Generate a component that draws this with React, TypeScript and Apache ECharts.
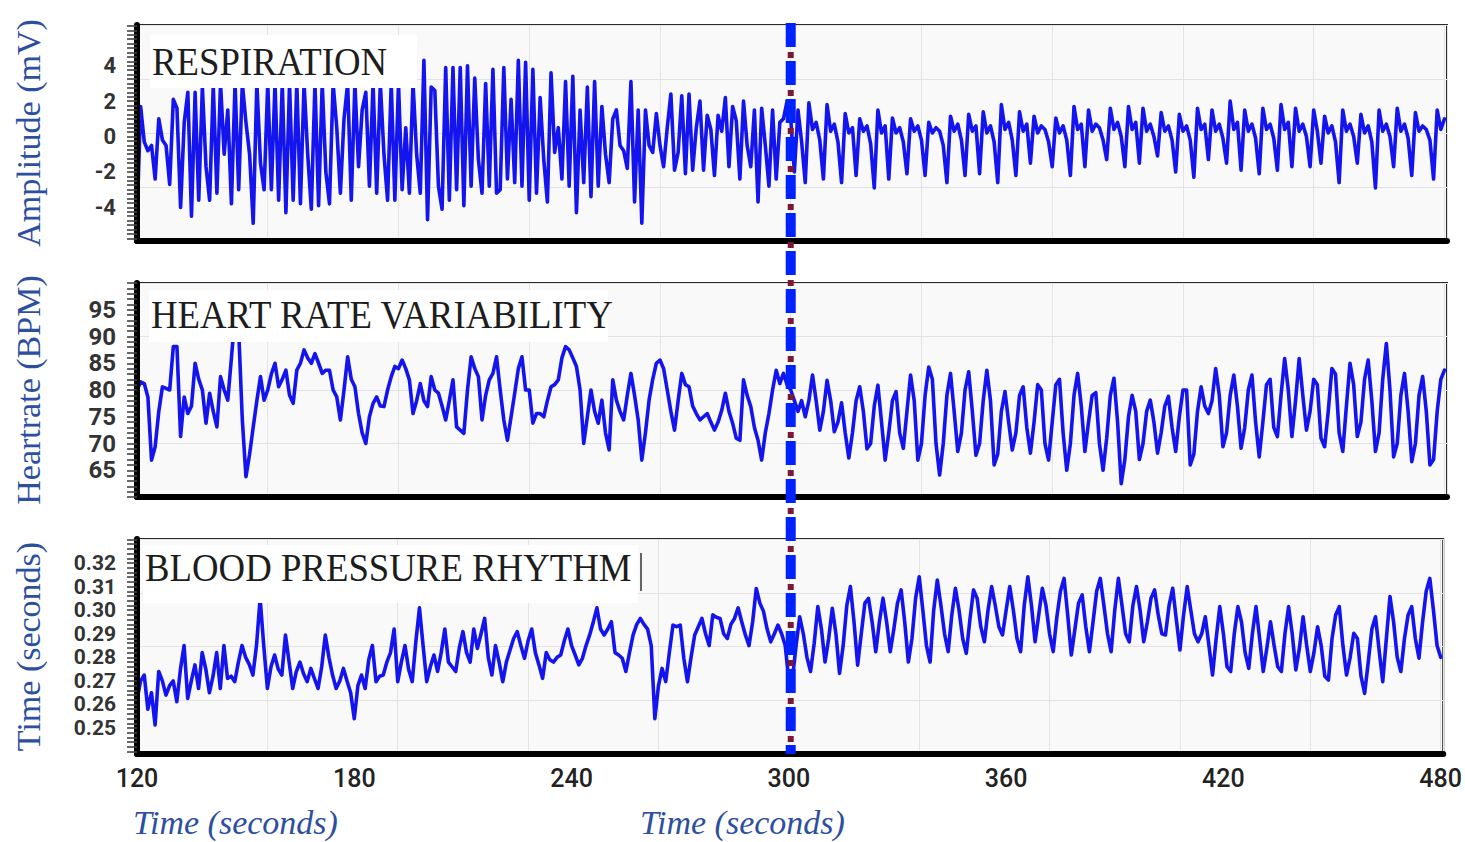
import React, { useEffect, useRef } from "react";
import * as echarts from "echarts";

// ---------- data (one sample per second, from 120 s to 480 s) ----------
const START_TIME = 120;
const TIME_STEP = 1;
const EVENT_TIME = 300;

const xTickLabels = [120, 180, 240, 300, 360, 420, 480];
const respTicks = [-4, -2, 0, 2, 4];
const hrTicks = [65, 70, 75, 80, 85, 90, 95];
const bpTicks = [0.25, 0.26, 0.27, 0.28, 0.29, 0.3, 0.31, 0.32];

const panelTitles = ["RESPIRATION", "HEART RATE VARIABILITY", "BLOOD PRESSURE RHYTHM"];
const yTitles = ["Amplitude (mV)", "Heartrate (BPM)", "Time (seconds)"];
const xTitle = "Time (seconds)";

const respiration = [
  -4.7, 1.7, -0.3, -0.8, -0.5, -2.4, 1.0, -0.2, -0.5, -2.7, // 120
  2.1, 1.6, -4.0, 0.8, 2.5, -4.5, 2.5, -3.6, 2.8, -1.7, // 130
  -3.6, 2.9, -3.2, 3.0, -1.0, 1.5, -3.8, 3.0, -3.0, 3.0, // 140
  0.8, -1.0, -4.9, 3.0, -1.5, -3.0, 3.0, -3.0, 3.0, -3.6, // 150
  3.0, -4.3, 3.0, -3.6, 3.0, -3.8, 3.0, -1.0, -4.1, 3.0, // 160
  -3.9, 3.0, -2.0, -3.8, 3.0, 0.5, -3.2, 1.0, 3.0, -3.6, // 170
  3.0, -1.7, 1.5, 2.5, -2.8, 3.0, -3.2, 3.0, -1.0, -3.6, // 180
  3.0, -3.6, 3.0, -3.0, 0.5, -3.2, 3.0, -1.0, -3.2, 4.3, // 190
  -4.7, 2.8, 2.6, -2.8, -4.1, 3.9, -3.6, 3.9, -3.0, 3.9, // 200
  -3.9, 4.0, -2.8, 3.3, -1.3, -3.2, 3.0, -2.8, 3.8, -3.2, // 210
  -3.0, 3.9, -2.4, 2.1, -2.6, 4.3, -2.8, 4.2, -3.6, 3.8, // 220
  -3.2, 2.2, -1.3, -3.7, 3.6, -0.9, 0.5, -2.4, 3.1, -2.8, // 230
  3.4, -4.3, 1.5, -2.6, 2.8, -3.4, 3.1, -2.8, 1.7, -1.0, // 240
  -2.6, 1.0, 1.5, -0.5, -0.8, -1.8, 3.1, -3.7, 1.5, -4.9, // 250
  1.5, -0.5, -0.9, 1.3, -0.5, -1.7, 0.5, 2.4, -1.9, -0.9, // 260
  2.3, -2.1, 2.4, -1.9, 0.5, 2.0, -1.9, 1.2, 0.4, -2.2, // 270
  1.2, 0.3, 2.2, -1.7, 1.7, 0.9, -2.4, 2.0, -0.5, -1.7, // 280
  1.5, -3.7, 1.6, -0.5, -2.8, 1.5, -2.4, 0.8, 1.0, 2.0, // 290
  1.0, -2.0, 1.5, -0.3, -2.6, 1.9, 0.4, 0.8, -0.2, -2.4, // 300
  1.8, 0.3, 0.7, -0.3, -2.6, 1.3, 0.2, 0.5, -2.2, 1.0, // 310
  0.3, 0.6, -0.4, -2.9, 1.5, 0.2, 0.6, -2.4, 1.05, 0.2, // 320
  0.5, -0.3, -2.1, 1.0, 0.3, 0.6, -0.2, -2.2, 0.8, 0.2, // 330
  0.5, 0.3, -0.5, -2.6, 1.15, 0.3, 0.7, -0.2, -2.2, 1.25, // 340
  0.3, 0.6, -2.1, 1.4, 0.2, 0.6, -0.3, -2.6, 1.8, 0.4, // 350
  0.8, -0.2, -2.2, 1.4, 0.3, 0.7, -1.5, 1.15, 0.2, 0.6, // 360
  0.4, -0.3, -1.7, 1.05, 0.2, 0.6, -0.2, -2.2, 1.7, 0.4, // 370
  0.7, -1.7, 1.5, 0.3, 0.7, 0.5, -0.2, -1.3, 1.6, 0.4, // 380
  0.8, 0.0, -1.7, 1.7, 0.4, 0.8, -1.5, 1.6, 0.3, 0.7, // 390
  0.0, -1.1, 1.35, 0.3, 0.6, -0.2, -2.0, 1.25, 0.3, 0.6, // 400
  -0.2, -2.3, 1.6, 0.4, 0.7, -1.3, 1.5, 0.3, 0.7, -0.1, // 410
  -1.5, 2.0, 0.4, 0.8, -1.9, 1.5, 0.3, 0.7, -0.1, -2.1, // 420
  1.6, 0.4, 0.7, -0.1, -1.9, 1.8, 0.4, 0.8, -1.7, 1.6, // 430
  0.3, 0.7, 0.0, -1.7, 1.5, 0.3, -1.5, 1.15, 0.2, 0.6, // 440
  -0.3, -2.6, 1.5, 0.3, 0.7, 0.0, -1.5, 1.25, 0.2, 0.6, // 450
  -0.3, -2.9, 1.5, 0.3, 0.7, 0.0, -1.7, 1.6, 0.3, 0.7, // 460
  -0.1, -2.2, 1.35, 0.3, 0.6, 0.4, -0.2, -2.4, 1.5, 0.4, // 470
  1.0, // 480
];

const heartRate = [
  80, 81.5, 81.2, 78.7, 66.9, 69.4, 76, 80.6, 80.3, 80, // 120
  88.1, 88.1, 71.3, 78.7, 75.6, 77, 85, 82, 80, 73.8, // 130
  79.4, 76, 73.1, 82.5, 80, 78.1, 86, 94, 91, 74.4, // 140
  63.8, 68, 73.1, 78, 82.5, 78.1, 80, 83, 85, 80.6, // 150
  82, 83.7, 79, 77.5, 83.7, 85, 87.5, 86, 85, 86.8, // 160
  85, 83.1, 83.7, 83.7, 80, 78.7, 74.4, 80, 86.2, 82, // 170
  80.6, 75.6, 72, 70, 75, 77.5, 78.7, 77, 76.9, 80, // 180
  82.5, 84.4, 84, 85.6, 84, 81.9, 75.6, 78, 81.2, 78, // 190
  76.9, 82.5, 80, 79.4, 77, 74.4, 78, 81.9, 73.1, 72.5, // 200
  71.9, 80, 86.2, 84, 82.5, 74.4, 79, 81.9, 83.1, 86.2, // 210
  80, 74.4, 70.6, 75, 79.4, 84, 86.2, 80, 80, 73.8, // 220
  75.6, 75.6, 75, 78, 80.6, 81, 81.9, 86, 88.1, 87.5, // 230
  86, 84.4, 80, 70, 75, 80, 76, 73.8, 78.1, 72, // 240
  68.8, 81.9, 78.1, 76, 74.4, 79, 83.1, 79, 74.4, 66.9, // 250
  72, 78.1, 82, 85, 85.6, 84, 80, 76, 72.5, 78, // 260
  83.1, 81, 80.6, 77, 75.6, 74.4, 75, 75.6, 74, 72.5, // 270
  74, 76.2, 79.4, 76, 73.8, 71, 70.6, 81.9, 79, 76.9, // 280
  73, 70.6, 66.9, 72, 75.6, 80, 83.7, 81.2, 83.1, 81, // 290
  80, 78, 76, 78, 75, 78, 82.8, 78, 72.5, 76, // 300
  81.8, 78, 72.2, 74, 77.6, 72, 67.3, 72, 78, 80.6, // 310
  76, 69, 70, 77, 80.9, 74, 66.9, 72, 78, 79.7, // 320
  72, 69.1, 76, 82.8, 78, 66.9, 70, 79, 84.3, 82, // 330
  70, 64.1, 70, 79, 83.1, 76, 68.5, 72, 80, 83.4, // 340
  76, 67.8, 70, 78, 83.7, 78, 66, 68, 76, 79.7, // 350
  74, 68.8, 72, 79, 80.6, 73, 68.2, 74, 81, 80, // 360
  70, 66.9, 74, 81, 82, 72, 65, 70, 79, 83.1, // 370
  77, 68.5, 74, 79, 79.5, 70, 65, 71, 79, 82.2, // 380
  74, 62.5, 67, 75, 79, 76, 67, 70, 76, 78.1, // 390
  74, 68.2, 72, 77, 78.8, 73, 68.5, 75, 80, 80, // 400
  66, 68, 76, 80.6, 77, 75.6, 78, 84, 79, 69.4, // 410
  72, 79, 82.8, 77, 69.1, 73, 80, 82.8, 74, 67.5, // 420
  74, 81, 82, 73, 71.3, 79, 85.9, 80, 71.3, 78, // 430
  85.9, 79, 72.5, 76, 82, 81, 71, 69.4, 76, 84, // 440
  83, 72, 68.5, 77, 85, 81, 71.3, 74, 82, 85.6, // 450
  78, 68.5, 72, 82, 88.7, 80, 67.5, 70, 79, 83.1, // 460
  76, 66.6, 70, 79, 82.5, 76, 66, 67, 76, 82, // 470
  83.7, // 480
];

const bloodPressure = [
  0.262, 0.27, 0.2725, 0.258, 0.265, 0.2513, 0.274, 0.27, 0.264, 0.268, // 120
  0.27, 0.2612, 0.275, 0.285, 0.2626, 0.27, 0.2768, 0.2668, 0.282, 0.275, // 130
  0.265, 0.272, 0.282, 0.2668, 0.285, 0.2711, 0.272, 0.2697, 0.278, 0.285, // 140
  0.28, 0.277, 0.2725, 0.285, 0.305, 0.285, 0.2668, 0.276, 0.281, 0.275, // 150
  0.2725, 0.2895, 0.278, 0.2668, 0.274, 0.278, 0.273, 0.2697, 0.2753, 0.271, // 160
  0.2668, 0.276, 0.2895, 0.28, 0.2725, 0.2668, 0.27, 0.2753, 0.27, 0.265, // 170
  0.254, 0.268, 0.2725, 0.2668, 0.279, 0.285, 0.2697, 0.272, 0.2725, 0.278, // 180
  0.282, 0.292, 0.2697, 0.278, 0.285, 0.275, 0.2697, 0.2866, 0.301, 0.285, // 190
  0.2697, 0.276, 0.281, 0.274, 0.282, 0.292, 0.278, 0.276, 0.274, 0.284, // 200
  0.2909, 0.282, 0.278, 0.292, 0.2838, 0.29, 0.2965, 0.28, 0.2725, 0.285, // 210
  0.278, 0.2697, 0.278, 0.283, 0.288, 0.2909, 0.285, 0.2796, 0.287, 0.292, // 220
  0.282, 0.2768, 0.2711, 0.282, 0.279, 0.278, 0.28, 0.281, 0.287, 0.292, // 230
  0.285, 0.281, 0.2768, 0.2796, 0.285, 0.2895, 0.295, 0.301, 0.292, 0.2895, // 240
  0.292, 0.2951, 0.282, 0.281, 0.2796, 0.274, 0.282, 0.2895, 0.294, 0.2965, // 250
  0.294, 0.292, 0.285, 0.254, 0.268, 0.2753, 0.2697, 0.282, 0.2937, 0.293, // 260
  0.2937, 0.2796, 0.2697, 0.28, 0.2895, 0.293, 0.2965, 0.29, 0.285, 0.298, // 270
  0.297, 0.2965, 0.29, 0.288, 0.294, 0.2965, 0.301, 0.295, 0.2895, 0.285, // 280
  0.295, 0.3092, 0.303, 0.2995, 0.292, 0.2866, 0.29, 0.2937, 0.29, 0.285, // 290
  0.27, 0.2711, 0.285, 0.2972, 0.29, 0.28, 0.274, 0.286, 0.3015, 0.292, // 300
  0.278, 0.288, 0.3008, 0.29, 0.2732, 0.285, 0.302, 0.31, 0.295, 0.2767, // 310
  0.29, 0.303, 0.305, 0.295, 0.2824, 0.295, 0.3051, 0.295, 0.2824, 0.292, // 320
  0.303, 0.3086, 0.295, 0.278, 0.288, 0.305, 0.3142, 0.3, 0.285, 0.278, // 330
  0.3, 0.3128, 0.302, 0.29, 0.2824, 0.298, 0.3093, 0.3, 0.288, 0.2817, // 340
  0.296, 0.3086, 0.305, 0.293, 0.2866, 0.3, 0.31, 0.302, 0.293, 0.2895, // 350
  0.3, 0.31, 0.3, 0.288, 0.2824, 0.302, 0.3142, 0.302, 0.2866, 0.298, // 360
  0.3093, 0.302, 0.29, 0.2824, 0.297, 0.308, 0.3135, 0.298, 0.281, 0.292, // 370
  0.303, 0.3065, 0.293, 0.2824, 0.295, 0.308, 0.3135, 0.302, 0.29, 0.2824, // 380
  0.3, 0.3135, 0.302, 0.29, 0.2866, 0.302, 0.31, 0.3, 0.2866, 0.295, // 390
  0.305, 0.3086, 0.298, 0.29, 0.2895, 0.302, 0.3093, 0.296, 0.2831, 0.298, // 400
  0.31, 0.3, 0.29, 0.2866, 0.29, 0.2972, 0.285, 0.2725, 0.288, 0.3015, // 410
  0.29, 0.276, 0.274, 0.29, 0.3015, 0.295, 0.282, 0.2753, 0.29, 0.3015, // 420
  0.288, 0.274, 0.284, 0.2951, 0.285, 0.276, 0.274, 0.29, 0.3015, 0.29, // 430
  0.2747, 0.284, 0.2972, 0.285, 0.274, 0.282, 0.293, 0.285, 0.272, 0.2704, // 440
  0.288, 0.298, 0.3015, 0.285, 0.2725, 0.28, 0.2902, 0.288, 0.272, 0.2647, // 450
  0.278, 0.292, 0.2972, 0.283, 0.2697, 0.288, 0.3058, 0.295, 0.28, 0.274, // 460
  0.288, 0.298, 0.3015, 0.288, 0.2796, 0.295, 0.308, 0.3135, 0.3, 0.285, // 470
  0.28, // 480
];

// ---------- layout / style ----------
const X_MIN = 120;
const X_MAX = 480.7;
const GRID_LEFT = 137;
const GRID_WIDTH = 1310;
const LINE_COLOR = "#1414ee";
const TITLE_BLUE = "#2d4f9f";

const panels = [
  { top: 25, height: 216, min: -5.9, max: 6.3, labels: respTicks, tickStep: 0.25, fontSize: 22, digits: 0,
    box: { x: 150, y: 35, w: 267, h: 53 }, titleY: 61 },
  { top: 283, height: 214, min: 60, max: 100, labels: hrTicks, tickStep: 1, fontSize: 24, digits: 0,
    box: { x: 149, y: 290, w: 459, h: 52 }, titleY: 314 },
  { top: 539, height: 215, min: 0.239, max: 0.3302, labels: bpTicks, tickStep: 0.002, fontSize: 21, digits: 2,
    box: { x: 143, y: 545, w: 495, h: 58 }, titleY: 567 },
];
const seriesValues = [respiration, heartRate, bloodPressure];

function rulerTicks(min: number, max: number, step: number): number[] {
  const out: number[] = [];
  const start = Math.ceil(min / step);
  const end = Math.floor(max / step);
  for (let k = start; k <= end; k++) out.push(+(k * step).toFixed(6));
  return out;
}

export default function App() {
  const ref = useRef<HTMLDivElement>(null);

  useEffect(() => {
    if (!ref.current) return;
    const chart = echarts.init(ref.current, undefined, { renderer: "svg" });

    const grid = panels.map((p) => ({
      left: GRID_LEFT,
      top: p.top,
      width: GRID_WIDTH,
      height: p.height,
      show: true,
      backgroundColor: "#f9f9f9",
      borderColor: "#2a2a2a",
      borderWidth: 2,
    }));

    const xAxis: any[] = [];
    const yAxis: any[] = [];
    panels.forEach((p, i) => {
      xAxis.push({
        type: "value",
        gridIndex: i,
        min: X_MIN,
        max: X_MAX,
        z: 5,
        axisLine: { show: true, onZero: false, lineStyle: { color: "#000", width: 6 } },
        axisTick: { show: false },
        splitLine: { show: false },
        axisLabel:
          i === 2
            ? {
                show: true,
                customValues: xTickLabels,
                margin: 12,
                fontSize: 25,
                fontWeight: 500,
                fontFamily: "Roboto",
                color: "#222",
              }
            : { show: false },
      });
      yAxis.push({
        type: "value",
        gridIndex: i,
        min: p.min,
        max: p.max,
        z: 5,
        axisLine: { show: true, onZero: false, lineStyle: { color: "#000", width: 6 } },
        axisTick: {
          show: true,
          customValues: rulerTicks(p.min, p.max, p.tickStep),
          length: 10,
          lineStyle: { color: "#444", width: 1.6 },
        },
        splitLine: { show: false },
        axisLabel: {
          show: true,
          customValues: p.labels,
          formatter: (v: number) => (p.digits ? v.toFixed(p.digits) : String(v)),
          margin: 21,
          fontSize: p.fontSize,
          fontWeight: "bold",
          fontFamily: "Roboto",
          color: "#333",
        },
      });
    });
    // helper axes that only draw the faint background grid
    panels.forEach((p, i) => {
      xAxis.push({
        type: "value",
        gridIndex: i,
        position: "top",
        min: 0,
        max: (X_MAX - X_MIN) / 36,
        interval: 1,
        axisLine: { show: false },
        axisTick: { show: false },
        axisLabel: { show: false },
        splitLine: { show: true, lineStyle: { color: "#e3e3e3", width: 1 } },
      });
      yAxis.push({
        type: "value",
        gridIndex: i,
        position: "right",
        min: 0,
        max: 4,
        interval: 1,
        axisLine: { show: false },
        axisTick: { show: false },
        axisLabel: { show: false },
        splitLine: { show: true, lineStyle: { color: "#e3e3e3", width: 1 } },
      });
    });

    const series = seriesValues.map((vals, i) => ({
      type: "line",
      xAxisIndex: i,
      yAxisIndex: i,
      showSymbol: false,
      symbol: "none",
      silent: true,
      z: 3,
      lineStyle: { color: LINE_COLOR, width: 3.6, join: "round", cap: "round" },
      data: vals.map((v, k) => [START_TIME + k * TIME_STEP, v]),
    }));

    chart.setOption({
      animation: false,
      backgroundColor: "#ffffff",
      grid,
      xAxis,
      yAxis,
      series,
    });

    const xEvent = chart.convertToPixel({ xAxisIndex: 0 }, EVENT_TIME) as number;
    const lineTop = panels[0].top - 2;
    const lineBottom = panels[2].top + panels[2].height;

    const graphic: any[] = [];
    panels.forEach((p, i) => {
      graphic.push({
        type: "rect",
        z: 10,
        shape: { x: p.box.x, y: p.box.y, width: p.box.w, height: p.box.h },
        style: { fill: "#ffffff" },
      });
      graphic.push({
        type: "text",
        z: 11,
        x: p.box.x + 2,
        y: p.titleY,
        scaleX: 0.92,
        style: {
          text: panelTitles[i],
          font: '40px "Liberation Serif"',
          fill: "#1d1d1d",
          align: "left",
          verticalAlign: "middle",
          textAlign: "left",
          textVerticalAlign: "middle",
        },
      });
      graphic.push({
        type: "text",
        z: 11,
        x: 28,
        y: p.top + p.height / 2,
        rotation: Math.PI / 2,
        style: {
          text: yTitles[i],
          font: '34px "Liberation Serif"',
          fill: TITLE_BLUE,
          align: "center",
          verticalAlign: "middle",
          textAlign: "center",
          textVerticalAlign: "middle",
        },
      });
    });
    // stray text caret after the last title
    graphic.push({
      type: "line",
      z: 12,
      shape: { x1: 641, y1: 553, x2: 641, y2: 591 },
      style: { stroke: "#333", lineWidth: 1.5 },
    });
    [133, 640].forEach((x) => {
      graphic.push({
        type: "text",
        z: 11,
        x,
        y: 822,
        style: {
          text: xTitle,
          font: 'italic 34px "Liberation Serif"',
          fill: TITLE_BLUE,
          align: "left",
          verticalAlign: "middle",
          textAlign: "left",
          textVerticalAlign: "middle",
        },
      });
    });
    // event marker at 300 s across all three panels
    graphic.push({
      type: "line",
      z: 20,
      shape: { x1: xEvent, y1: lineTop, x2: xEvent, y2: lineBottom },
      style: { stroke: "#7a1838", lineWidth: 6, lineDash: [6, 32], lineDashOffset: 9 },
    });
    graphic.push({
      type: "line",
      z: 21,
      shape: { x1: xEvent, y1: lineTop, x2: xEvent, y2: lineBottom },
      style: { stroke: "#0022ff", lineWidth: 10, lineDash: [24, 14] },
    });

    chart.setOption({ graphic });

    return () => {
      chart.dispose();
    };
  }, []);

  return (
    <div
      ref={ref}
      style={{ position: "absolute", left: 0, top: 0, width: 1465, height: 842 }}
    />
  );
}
